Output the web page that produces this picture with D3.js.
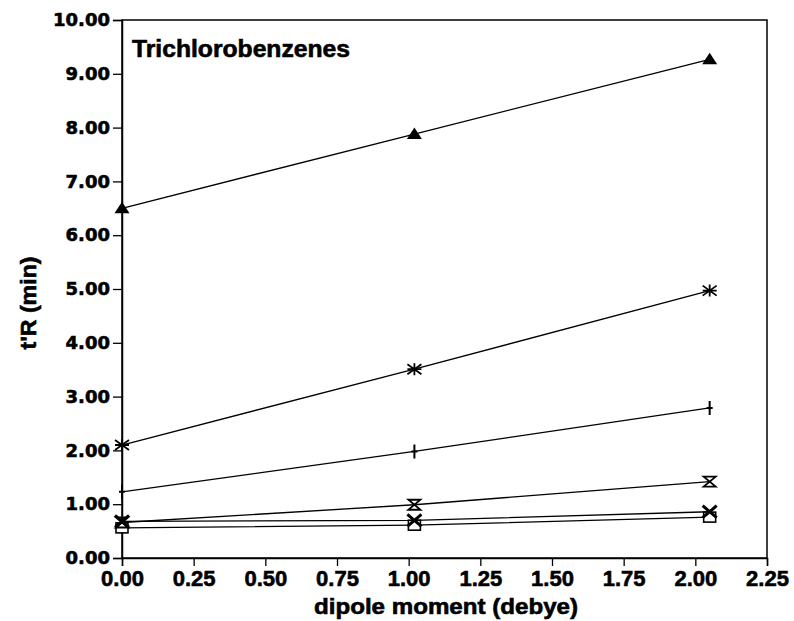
<!DOCTYPE html>
<html>
<head>
<meta charset="utf-8">
<script src="https://cdn.jsdelivr.net/npm/d3@7"></script>
<style>
  html, body { margin: 0; padding: 0; background: #fff; }
  svg { display: block; }
  .heavy { stroke: #000; stroke-width: 0.6px; paint-order: stroke; }
</style>
</head>
<body>
<svg id="chart" width="794" height="621"></svg>
<script>
// Dipole moments of the three trichlorobenzene isomers (debye)
const dipole = [0, 1.02, 2.05];

// Adjusted retention times t'R (min) for each column / condition
const seriesTriangle  = [6.50, 7.88, 9.27];
const seriesAsterisk  = [2.10, 3.51, 4.97];
const seriesPlus      = [1.23, 1.98, 2.79];
const seriesHourglass = [0.66, 0.99, 1.42];
const seriesCross     = [0.68, 0.70, 0.86];
const seriesSquare    = [0.56, 0.61, 0.76];

const seriesNames   = ["triangle", "asterisk", "plus", "hourglass", "cross", "square"];
const seriesValues  = [seriesTriangle, seriesAsterisk, seriesPlus, seriesHourglass, seriesCross, seriesSquare];

const xTicks = [0, 0.25, 0.5, 0.75, 1.0, 1.25, 1.5, 1.75, 2.0, 2.25];
const yTicks = [0, 1, 2, 3, 4, 5, 6, 7, 8, 9, 10];

const titleText  = "Trichlorobenzenes";
const xAxisTitle = "dipole moment (debye)";
const yAxisTitle = "t'R (min)";

const svg = d3.select("#chart");
const plotLeft = 122, plotRight = 767, plotTop = 20, plotBottom = 558;

const x = d3.scaleLinear().domain([0, 2.25]).range([plotLeft, plotRight]);
const y = d3.scaleLinear().domain([0, 10]).range([plotBottom, plotTop]);

// Frame (top and right edges)
svg.append("rect")
  .attr("x", plotLeft).attr("y", plotTop)
  .attr("width", plotRight - plotLeft).attr("height", plotBottom - plotTop)
  .attr("fill", "none").attr("stroke", "#000").attr("stroke-width", 1.5);

// Y axis
const yAxis = svg.append("g")
  .attr("transform", `translate(${plotLeft},0)`)
  .call(d3.axisLeft(y).tickValues(yTicks).tickFormat(d3.format(".2f")).tickSize(9).tickPadding(3));
yAxis.selectAll("text")
  .attr("class", "heavy")
  .attr("font-family", "DejaVu Sans, sans-serif")
  .attr("font-weight", "bold")
  .attr("font-size", 18)
  .attr("fill", "#000");

// X axis
const xAxis = svg.append("g")
  .attr("transform", `translate(0,${plotBottom})`)
  .call(d3.axisBottom(x).tickValues(xTicks).tickFormat(d3.format(".2f")).tickSize(8).tickPadding(4));
xAxis.selectAll("text")
  .attr("class", "heavy")
  .attr("font-family", "Liberation Sans, Arial, sans-serif")
  .attr("font-weight", "bold")
  .attr("font-size", 22)
  .attr("fill", "#000");

[yAxis, xAxis].forEach(g => {
  g.select(".domain").attr("stroke", "#000").attr("stroke-width", 1.5);
  g.selectAll(".tick line").attr("stroke", "#000").attr("stroke-width", 1.3);
});

// Series lines
const line = d3.line().x((d, i) => x(dipole[i])).y(d => y(d));
seriesValues.forEach(vals => {
  svg.append("path")
    .datum(vals)
    .attr("d", line)
    .attr("fill", "none")
    .attr("stroke", "#000")
    .attr("stroke-width", 1.3);
});

// Marker shapes
function drawMarker(g, kind) {
  const s = "#000";
  switch (kind) {
    case "triangle":
      g.append("path").attr("d", "M0,-6.5 L7.5,5 L-7.5,5 Z").attr("fill", s);
      break;
    case "asterisk":
      g.append("path").attr("d", "M-7,-5 L7,5 M-7,5 L7,-5 M0,-6 L0,6 M-7,0 L7,0")
        .attr("stroke", s).attr("stroke-width", 1.8).attr("fill", "none");
      break;
    case "plus":
      g.append("path").attr("d", "M0,-7 L0,7 M-3,0 L3,0")
        .attr("stroke", s).attr("stroke-width", 2).attr("fill", "none");
      break;
    case "hourglass":
      g.append("path").attr("d", "M-6,-5 L6,-5 L-6,5 L6,5 Z")
        .attr("stroke", s).attr("stroke-width", 1.8).attr("fill", "none");
      break;
    case "cross":
      g.append("path").attr("d", "M-7,-6 L7,6 M-7,6 L7,-6")
        .attr("stroke", s).attr("stroke-width", 3).attr("fill", "none");
      break;
    case "square":
      g.append("rect").attr("x", -6).attr("y", -5).attr("width", 12).attr("height", 10)
        .attr("stroke", s).attr("stroke-width", 1.6).attr("fill", "#fff");
      break;
  }
}

// Draw markers; the open squares go first so the crosses sit on top of them
const drawOrder = [5, 3, 2, 1, 0, 4];
drawOrder.forEach(si => {
  seriesValues[si].forEach((v, i) => {
    const g = svg.append("g").attr("transform", `translate(${x(dipole[i])},${y(v)})`);
    drawMarker(g, seriesNames[si]);
  });
});

// Title inside plot
svg.append("text")
  .attr("class", "heavy")
  .attr("x", 132).attr("y", 57)
  .attr("font-family", "Liberation Sans, Arial, sans-serif")
  .attr("font-weight", "bold")
  .attr("font-size", 23)
  .attr("textLength", 218)
  .attr("lengthAdjust", "spacingAndGlyphs")
  .text(titleText);

// Axis titles
svg.append("text")
  .attr("class", "heavy")
  .attr("x", 446).attr("y", 614)
  .attr("text-anchor", "middle")
  .attr("font-family", "Liberation Sans, Arial, sans-serif")
  .attr("font-weight", "bold")
  .attr("font-size", 22)
  .attr("textLength", 264)
  .attr("lengthAdjust", "spacingAndGlyphs")
  .text(xAxisTitle);

svg.append("text")
  .attr("class", "heavy")
  .attr("transform", "translate(36,303) rotate(-90)")
  .attr("text-anchor", "middle")
  .attr("font-family", "Liberation Sans, Arial, sans-serif")
  .attr("font-weight", "bold")
  .attr("font-size", 22)
  .attr("textLength", 93)
  .attr("lengthAdjust", "spacingAndGlyphs")
  .text(yAxisTitle);
</script>
</body>
</html>
